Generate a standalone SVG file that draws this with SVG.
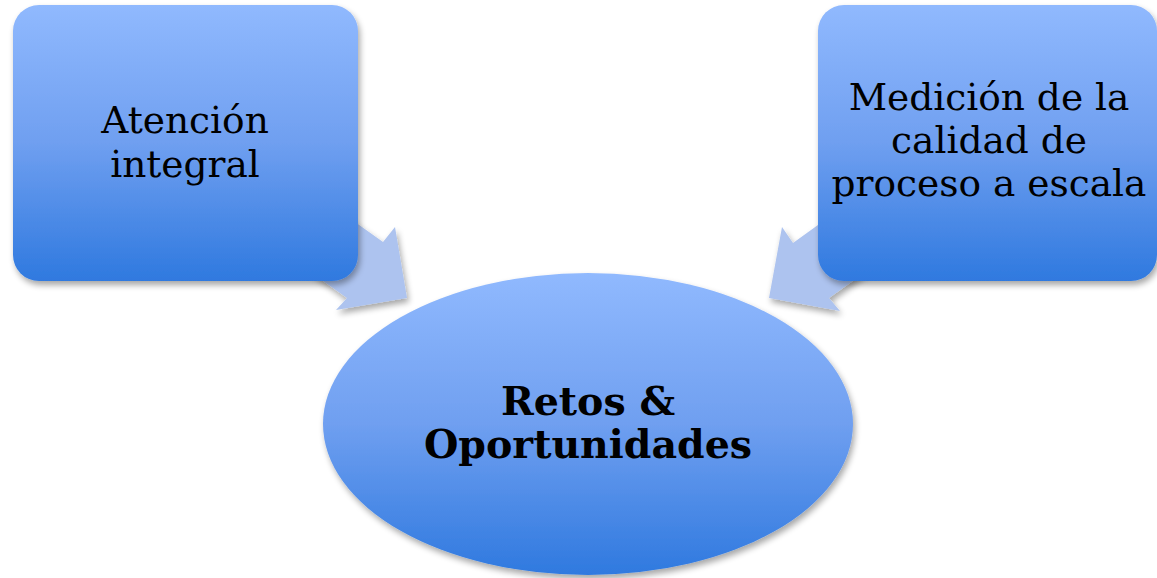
<svg xmlns="http://www.w3.org/2000/svg" width="1157" height="578" viewBox="0 0 1157 578">
<defs>
<linearGradient id="g" x1="0" y1="0" x2="0" y2="1">
<stop offset="0" stop-color="#90b9fe"/>
<stop offset="0.5" stop-color="#6f9ff0"/>
<stop offset="1" stop-color="#2f79df"/>
</linearGradient>
<filter id="sh" x="-10%" y="-10%" width="125%" height="125%">
<feGaussianBlur in="SourceAlpha" stdDeviation="3"/>
<feOffset dx="2" dy="4" result="b"/>
<feComponentTransfer><feFuncA type="linear" slope="0.35"/></feComponentTransfer>
<feMerge><feMergeNode/><feMergeNode in="SourceGraphic"/></feMerge>
</filter>
</defs>
<style>
.box{fill:url(#g);filter:url(#sh)}
.arr{fill:#adc3ef;filter:url(#sh)}
.t{font-family:"DejaVu Serif","Liberation Serif",serif;font-size:37.5px;fill:#000;text-anchor:middle}
.b{font-weight:bold;font-size:39.5px}
</style>
<g id="connectors">
<polygon class="arr" points="261,155 383,242 395,227 407,298 336,310 347,298 225,211"/>
<polygon class="arr" points="915,155 793,243 782,227 769,298 840,311 829,298 951,211"/>
</g>
<g id="node-atencion">
<rect class="box" x="13" y="5" width="345" height="276" rx="26"/>
<text class="t" x="185" y="133">Atención</text>
<text class="t" x="185" y="177">integral</text>
</g>
<g id="node-medicion">
<rect class="box" x="818" y="5" width="339" height="276" rx="26"/>
<text class="t" x="989" y="110">Medición de la</text>
<text class="t" x="989" y="153">calidad de</text>
<text class="t" x="989" y="196">proceso a escala</text>
</g>
<g id="node-retos">
<ellipse class="box" cx="588" cy="424" rx="265" ry="151"/>
<text class="t b" x="588" y="415">Retos &amp;</text>
<text class="t b" x="588" y="458">Oportunidades</text>
</g>
</svg>
